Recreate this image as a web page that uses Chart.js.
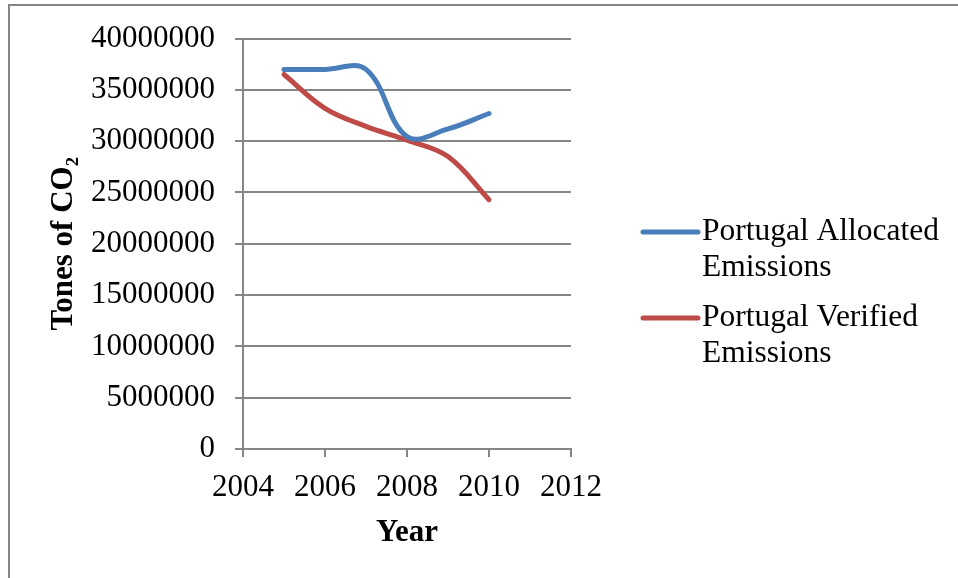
<!DOCTYPE html>
<html>
<head>
<meta charset="utf-8">
<script src="https://cdn.jsdelivr.net/npm/chart.js@4/dist/chart.umd.min.js"></script>
<style>
  html, body { margin: 0; padding: 0; background: #ffffff; }
  #wrap { position: relative; width: 958px; height: 578px; overflow: hidden; }
  #frame { position: absolute; left: 8px; top: 4px; width: 1200px; height: 1200px;
           border-left: 2px solid #868686; border-top: 2px solid #868686; box-sizing: border-box; }
  canvas { position: absolute; left: 0; top: 0; }
</style>
</head>
<body>
<div id="wrap">
  <div id="frame"></div>
  <canvas id="c" width="958" height="578"></canvas>
</div>
<script>
// ---- data ----
const years = [2005, 2006, 2007, 2008, 2009, 2010];
const allocated = [37000000, 37000000, 37000000, 30450000, 31200000, 32700000];
const verified = [36500000, 33200000, 31450000, 30100000, 28500000, 24300000];
const seriesNames = ['Portugal Allocated Emissions', 'Portugal Verified Emissions'];
const xTicks = [2004, 2006, 2008, 2010, 2012];
const yTicks = [0, 5000000, 10000000, 15000000, 20000000, 25000000, 30000000, 35000000, 40000000];
const xTitle = 'Year';
const yTitle = 'Tones of CO\u2082';

const FONT = "'Liberation Serif', 'Times New Roman', serif";
const GRID = '#868686';
const colors = ['#4A7EBB', '#BE4B48'];

function pts(vals) { return years.map((y, i) => ({ x: y, y: vals[i] })); }

const legendPlugin = {
  id: 'sideLegend',
  afterDraw(chart) {
    const ctx = chart.ctx;
    ctx.save();
    ctx.font = '31.5px ' + FONT;
    ctx.textBaseline = 'middle';
    ctx.textAlign = 'left';
    const x0 = 643, x1 = 698, tx = 702;
    const starts = [232, 318];
    chart.data.datasets.forEach((ds, i) => {
      const words = ds.label.split(' ');
      const lines = [words.slice(0, -1).join(' '), words[words.length - 1]];
      const y = starts[i];
      ctx.strokeStyle = ds.borderColor;
      ctx.lineWidth = 5;
      ctx.lineCap = 'round';
      ctx.beginPath(); ctx.moveTo(x0, y); ctx.lineTo(x1, y); ctx.stroke();
      ctx.fillStyle = '#000';
      lines.forEach((ln, k) => ctx.fillText(ln, tx, y + k * 36));
    });
    ctx.restore();
  }
};

new Chart(document.getElementById('c'), {
  type: 'line',
  data: {
    datasets: [
      { label: seriesNames[0], data: pts(allocated), borderColor: colors[0], backgroundColor: colors[0],
        borderWidth: 5, pointRadius: 0, tension: 0.38, fill: false, borderCapStyle: 'round' },
      { label: seriesNames[1], data: pts(verified), borderColor: colors[1], backgroundColor: colors[1],
        borderWidth: 5, pointRadius: 0, tension: 0.38, fill: false, borderCapStyle: 'round' }
    ]
  },
  options: {
    responsive: false,
    animation: false,
    devicePixelRatio: 1,
    layout: { padding: { left: 0, top: 13, right: 387, bottom: 0 } },
    plugins: { legend: { display: false }, tooltip: { enabled: false } },
    scales: {
      x: {
        type: 'linear', min: 2004, max: 2012,
        afterBuildTicks(s) { s.ticks = xTicks.map(v => ({ value: v })); },
        ticks: { font: { family: FONT, size: 31 }, color: '#000', padding: 12, maxRotation: 0,
                 callback: v => String(v) },
        grid: { drawOnChartArea: false, drawTicks: true, tickLength: 8, color: GRID, lineWidth: 2 },
        border: { color: GRID, width: 2 },
        title: { display: true, text: xTitle, font: { family: FONT, size: 31, weight: 'bold' }, color: '#000',
                 padding: { top: 4, bottom: 26 } },
        afterFit(s) { s.height = 129; }
      },
      y: {
        min: 0, max: 40000000,
        afterBuildTicks(s) { s.ticks = yTicks.map(v => ({ value: v })); },
        ticks: { font: { family: FONT, size: 31 }, color: '#000', padding: 20, callback: v => String(v) },
        grid: { color: GRID, lineWidth: 2, tickLength: 8, drawTicks: true },
        border: { color: GRID, width: 2 },
        title: { display: true, text: yTitle, font: { family: FONT, size: 31, weight: 'bold' }, color: '#000',
                 padding: { top: 45, bottom: 0 } },
        afterFit(s) { s.width = 243; }
      }
    }
  },
  plugins: [legendPlugin]
});
</script>
</body>
</html>
